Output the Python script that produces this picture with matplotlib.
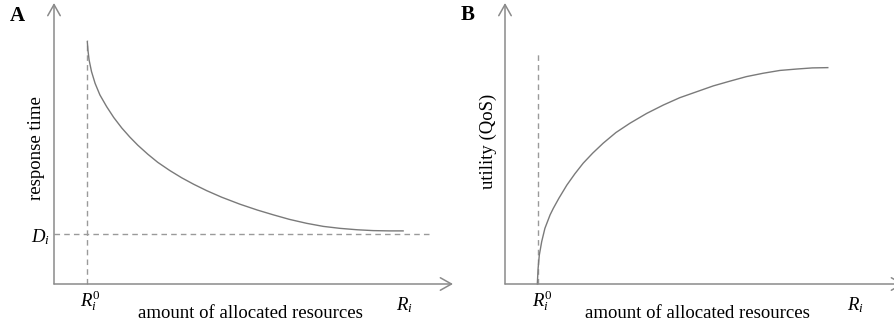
import matplotlib
matplotlib.use("Agg")
import matplotlib.pyplot as plt

plt.rcParams["font.family"] = ["Liberation Serif", "DejaVu Serif"]
plt.rcParams["mathtext.fontset"] = "custom"
plt.rcParams["mathtext.rm"] = "Liberation Serif"
plt.rcParams["mathtext.it"] = "Liberation Serif:italic"
plt.rcParams["mathtext.bf"] = "Liberation Serif:bold"

# Panel A: response time falls as more resources are allocated
resp_x = [0.835, 0.85, 0.88, 0.94, 1.03, 1.15, 1.32, 1.50, 1.70, 1.90, 2.10,
          2.35, 2.60, 2.90, 3.20, 3.50, 3.83, 4.20, 4.66, 5.10, 5.50, 5.90,
          6.33, 6.75, 7.17, 7.60, 8.00, 8.40, 8.75]
resp_y = [8.62, 8.33, 7.97, 7.56, 7.14, 6.73, 6.31, 5.92, 5.55, 5.23, 4.94,
          4.62, 4.33, 4.04, 3.78, 3.55, 3.32, 3.09, 2.84, 2.63, 2.46, 2.30,
          2.16, 2.05, 1.98, 1.93, 1.90, 1.89, 1.89]
resp_min_alloc = 0.83      # R_i^0
resp_min_alloc_top = 8.68
deadline = 1.78            # D_i
deadline_end = 9.42

# Panel B: utility (QoS) grows with allocated resources
util_x = [0.81, 0.83, 0.86, 0.92, 1.00, 1.13, 1.21, 1.35, 1.55, 1.75, 1.96,
          2.20, 2.46, 2.78, 3.13, 3.55, 3.97, 4.38, 4.80, 5.22, 5.64, 6.05,
          6.47, 6.89, 7.31, 7.70, 8.09]
util_y = [0.00, 0.56, 1.03, 1.51, 1.98, 2.46, 2.69, 3.05, 3.52, 3.92, 4.30,
          4.66, 5.01, 5.39, 5.72, 6.07, 6.37, 6.63, 6.84, 7.05, 7.22, 7.38,
          7.50, 7.60, 7.65, 7.69, 7.70]
util_min_alloc = 0.83
util_min_alloc_top = 8.26

AXIS_C = "#8a8a8a"
CURVE_C = "#7a7a7a"
DASH_C = "#9a9a9a"
FS = 13.5

W, H = 895, 327
fig = plt.figure(figsize=(W / 100, H / 100), dpi=100)


def fx(px):
    return px / W


def fy(py):
    return 1 - py / H


def make_axes(left_px):
    ax = fig.add_axes([fx(left_px), fy(284), 399 / W, 281 / H])
    ax.set_xlim(0, 10)
    ax.set_ylim(0, 10)
    ax.axis("off")
    arrow = dict(arrowstyle="->,head_length=0.8,head_width=0.45",
                 color=AXIS_C, lw=1.1, shrinkA=0, shrinkB=0,
                 mutation_scale=10)
    ax.annotate("", xy=(1, 0), xytext=(0, 0), xycoords="axes fraction",
                arrowprops=arrow, annotation_clip=False)
    ax.annotate("", xy=(0, 1), xytext=(0, 0), xycoords="axes fraction",
                arrowprops=arrow, annotation_clip=False)
    return ax


dash = dict(color=DASH_C, lw=1.0, ls=(0, (4, 3)), clip_on=False)

# ---- A ----
axA = make_axes(54)
axA.plot([resp_min_alloc, resp_min_alloc], [0, resp_min_alloc_top], **dash)
axA.plot([0, deadline_end], [deadline, deadline], **dash)
axA.plot(resp_x, resp_y, color=CURVE_C, lw=1.0, clip_on=False,
         solid_joinstyle="round")

# ---- B ----
axB = make_axes(505)
axB.plot([util_min_alloc, util_min_alloc], [0, util_min_alloc_top], **dash)
axB.plot(util_x, util_y, color=CURVE_C, lw=1.0, clip_on=False,
         solid_joinstyle="round")

# ---- labels ----
fig.text(fx(17), fy(16), "A", fontsize=15, fontweight="bold",
         ha="center", va="center")
fig.text(fx(468), fy(15), "B", fontsize=15, fontweight="bold",
         ha="center", va="center")

fig.text(fx(37), fy(148), "response time", fontsize=FS, rotation=90,
         ha="center", va="center")
fig.text(fx(488), fy(141), "utility (QoS)", fontsize=FS, rotation=90,
         ha="center", va="center")

fig.text(fx(50), fy(237), r"$D_i$", fontsize=FS, ha="right", va="center")

for cx, r0x, rix in [(250, 90, 404), (697, 542, 855)]:
    fig.text(fx(cx), fy(313), "amount of allocated resources", fontsize=FS,
             ha="center", va="center")
    fig.text(fx(r0x), fy(301), r"$R_i^{\mathrm{0}}$", fontsize=FS,
             ha="center", va="center")
    fig.text(fx(rix), fy(305), r"$R_i$", fontsize=FS,
             ha="center", va="center")

fig.savefig("out.png", dpi=100)
